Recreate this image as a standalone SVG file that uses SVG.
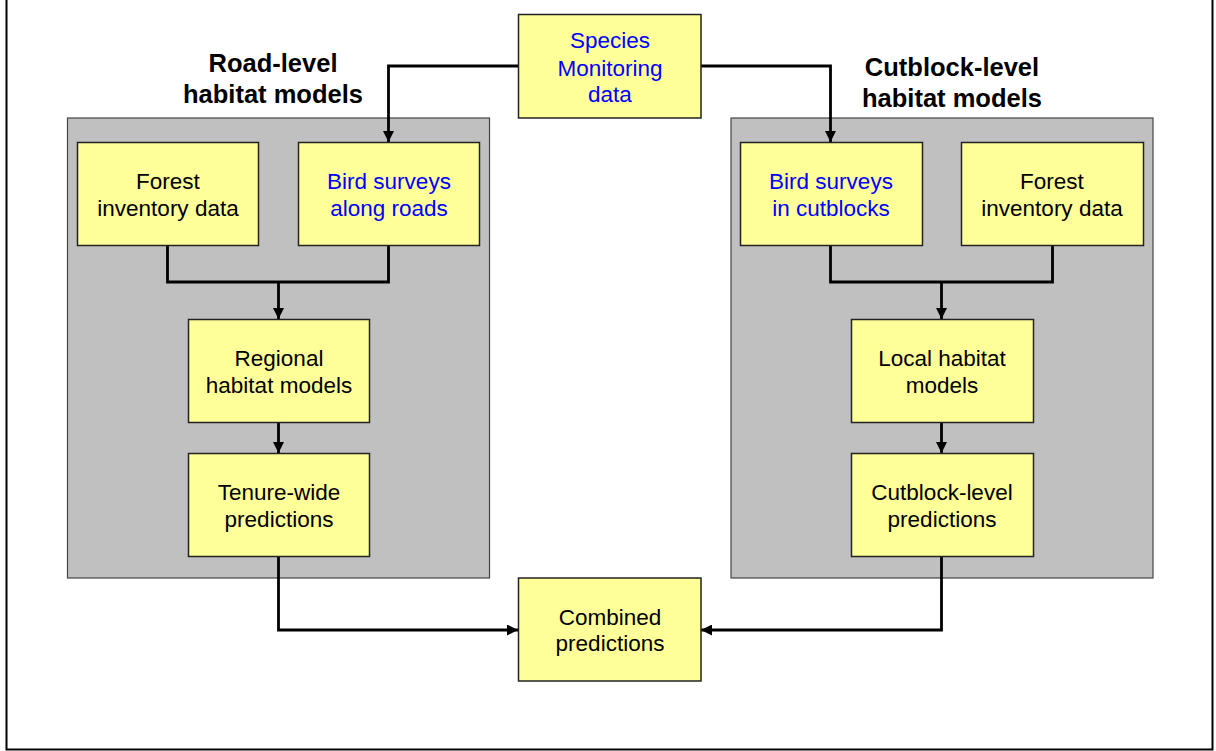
<svg xmlns="http://www.w3.org/2000/svg" width="1216" height="751" viewBox="0 0 1216 751">
<style>
.box{fill:#FFFF99;stroke:#222;stroke-width:1.5}
.panel{fill:#C0C0C0;stroke:#444;stroke-width:1.2}
.t{font-family:"Liberation Sans",Arial,sans-serif;font-size:22.5px;text-anchor:middle;fill:#000}
.b{fill:#0000FF}
.title{font-family:"Liberation Sans",Arial,sans-serif;font-size:25.5px;font-weight:bold;text-anchor:middle;fill:#000}
.c{fill:none;stroke:#000;stroke-width:2.8}
</style>
<defs>
<marker id="ah" viewBox="0 0 10 10" refX="10" refY="5" markerWidth="11" markerHeight="11" markerUnits="userSpaceOnUse" orient="auto">
<path d="M0,0 L10,5 L0,10 Z" fill="#000"/>
</marker>
</defs>
<rect x="0" y="0" width="1216" height="751" fill="#fff"/>
<path d="M6.5,-2 V749.5 H1212.5 V-2" fill="none" stroke="#000" stroke-width="2"/>

<g id="road-panel">
<rect class="panel" x="67.5" y="118" width="422" height="460"/>
<text class="title" x="273" y="72">Road-level</text>
<text class="title" x="273" y="103">habitat models</text>
</g>
<g id="cut-panel">
<rect class="panel" x="731" y="118" width="422" height="460"/>
<text class="title" x="952" y="76">Cutblock-level</text>
<text class="title" x="952" y="107">habitat models</text>
</g>

<g id="connectors">
<path class="c" d="M518,66 H388.5 V142" marker-end="url(#ah)"/>
<path class="c" d="M701,66 H830.5 V142" marker-end="url(#ah)"/>
<path class="c" d="M167.5,245 V282 H388.5 V245"/>
<path class="c" d="M278.5,282 V319" marker-end="url(#ah)"/>
<path class="c" d="M830.5,245 V282 H1052.5 V245"/>
<path class="c" d="M941.5,282 V319" marker-end="url(#ah)"/>
<path class="c" d="M278.5,422 V453" marker-end="url(#ah)"/>
<path class="c" d="M941.5,422 V453" marker-end="url(#ah)"/>
<path class="c" d="M278.5,556 V630 H518" marker-end="url(#ah)"/>
<path class="c" d="M941.5,556 V630 H701" marker-end="url(#ah)"/>
</g>

<g id="species">
<rect class="box" x="518.5" y="14.5" width="182.5" height="103.5"/>
<text class="t b" x="610" y="48">Species</text>
<text class="t b" x="610" y="75.5">Monitoring</text>
<text class="t b" x="610" y="102">data</text>
</g>
<g id="forest-left">
<rect class="box" x="77.5" y="142.5" width="181" height="103"/>
<text class="t" x="168" y="189">Forest</text>
<text class="t" x="168" y="215.5">inventory data</text>
</g>
<g id="bird-roads">
<rect class="box" x="298.5" y="142.5" width="181" height="103"/>
<text class="t b" x="389" y="189">Bird surveys</text>
<text class="t b" x="389" y="215.5">along roads</text>
</g>
<g id="regional">
<rect class="box" x="188.5" y="319.5" width="181" height="103"/>
<text class="t" x="279" y="366">Regional</text>
<text class="t" x="279" y="392.5">habitat models</text>
</g>
<g id="tenure">
<rect class="box" x="188.5" y="453.5" width="181" height="103"/>
<text class="t" x="279" y="500">Tenure-wide</text>
<text class="t" x="279" y="526.5">predictions</text>
</g>
<g id="bird-cutblocks">
<rect class="box" x="740.5" y="142.5" width="182" height="103"/>
<text class="t b" x="831" y="189">Bird surveys</text>
<text class="t b" x="831" y="215.5">in cutblocks</text>
</g>
<g id="forest-right">
<rect class="box" x="961.5" y="142.5" width="182" height="103"/>
<text class="t" x="1052" y="189">Forest</text>
<text class="t" x="1052" y="215.5">inventory data</text>
</g>
<g id="local">
<rect class="box" x="851.5" y="319.5" width="182" height="103"/>
<text class="t" x="942" y="366">Local habitat</text>
<text class="t" x="942" y="392.5">models</text>
</g>
<g id="cutblock-pred">
<rect class="box" x="851.5" y="453.5" width="182" height="103"/>
<text class="t" x="942" y="500">Cutblock-level</text>
<text class="t" x="942" y="526.5">predictions</text>
</g>
<g id="combined">
<rect class="box" x="518.5" y="578" width="182.5" height="103"/>
<text class="t" x="610" y="624.5">Combined</text>
<text class="t" x="610" y="651">predictions</text>
</g>
</svg>
